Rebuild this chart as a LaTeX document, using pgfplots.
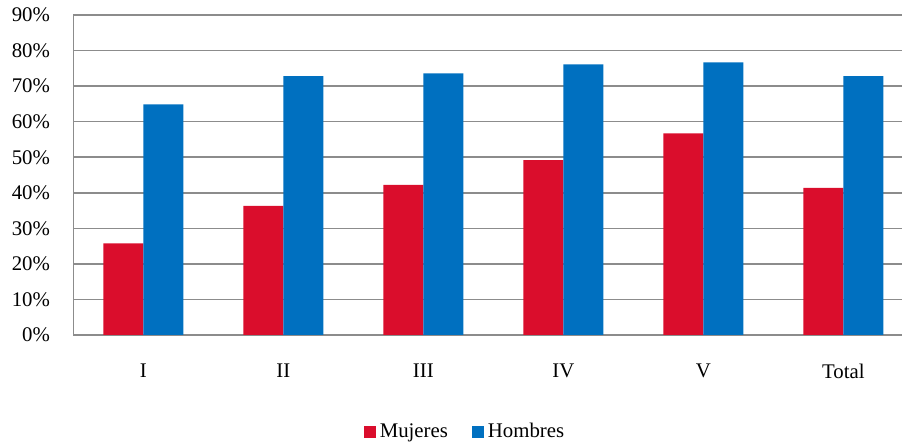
\documentclass[border=0pt]{standalone}
\usepackage{pgfplots}
\pgfplotsset{compat=1.18}
\usepackage{fontspec}
\setmainfont{Liberation Serif}
\definecolor{mred}{RGB}{218,13,44}
\definecolor{hblue}{RGB}{0,112,192}
\definecolor{gridg}{RGB}{140,140,140}
\begin{document}
\fontsize{10.4}{12}\selectfont
\begin{tikzpicture}
\useasboundingbox (0,0) rectangle (451pt,222.5pt);
\begin{axis}[
  at={(36.65pt,55pt)}, anchor=south west,
  scale only axis, width=414.35pt, height=160pt,
  ybar=0pt, bar width=20pt,
  xmin=-0.5, xmax=5.419,
  ymin=0, ymax=90,
  xtick={0,1,2,3,4,5},
  xticklabels={I,II,III,IV,V,Total},
  ytick={0,10,...,90},
  yticklabel={\pgfmathprintnumber{\tick}\%},
  /pgf/number format/assume math mode=true,
  axis x line*=bottom, axis y line*=left,
  axis line style={gridg, line width=0.75pt, -},
  major tick length=0pt,
  ymajorgrids, grid style={gridg, line width=0.75pt},
  xticklabel style={yshift=-11pt, font=\fontsize{10.4}{12}\selectfont},
  yticklabel style={xshift=-8pt, font=\fontsize{10.4}{12}\selectfont},
  legend style={at={(0.4739,-0.303)}, anchor=center, draw=none, fill=none,
    legend columns=2, font=\fontsize{10.4}{12}\selectfont,
    /tikz/every even column/.append style={column sep=10pt}},
  legend image code/.code={\fill[#1] (0pt,-3pt) rectangle (6pt,3pt);},
  clip=false,
]
\addplot[fill=mred, draw=none] coordinates {(0,25.8) (1,36.3) (2,42.2) (3,49.2) (4,56.7) (5,41.4)};
\addplot[fill=hblue, draw=none] coordinates {(0,64.9) (1,72.8) (2,73.6) (3,76.1) (4,76.7) (5,72.8)};
\legend{Mujeres,Hombres}
\end{axis}
\end{tikzpicture}
\end{document}
